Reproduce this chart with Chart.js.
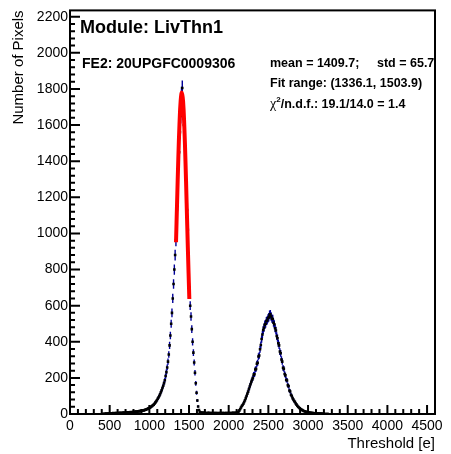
<!DOCTYPE html>
<html>
<head>
<meta charset="utf-8">
<script src="https://cdn.jsdelivr.net/npm/chart.js@4"></script>
<style>
  html, body { margin: 0; padding: 0; background: #fff; }
</style>
</head>
<body>
<canvas id="chart" width="451" height="454"></canvas>
<script>
// histogram: 10 e bins starting at 400 e
const binLow = 400;
const binWidth = 10;
const counts = [
  0, 1, 0, 1, 1, 2, 1, 2, 3, 2,              // 400
  3, 2, 4, 3, 5, 4, 3, 5, 6, 4,              // 500
  5, 6, 5, 7, 6, 5, 7, 8, 6, 7,              // 600
  8, 7, 9, 8, 10, 9, 11, 10, 9, 12,          // 700
  11, 13, 12, 14, 13, 15, 14, 16, 17, 16,    // 800
  18, 19, 21, 20, 23, 24, 26, 28, 30, 32,    // 900
  35, 37, 41, 44, 48, 52, 57, 63, 69, 76,    // 1000
  84, 91, 100, 109, 120, 131, 144, 157, 171, 187,        // 1100
  210, 232, 258, 290, 330, 380, 435, 500, 560, 640,      // 1200
  720, 800, 880, 960, 1040, 1160, 1370, 1450, 1560, 1650, // 1300
  1770, 1805, 1730, 1600, 1500, 1380, 1280, 1130, 1020, 860, // 1400
  700, 600, 540, 470, 400, 340, 285, 228, 170, 118,      // 1500
  75, 42, 22, 13, 9, 7, 6, 8, 5, 6,          // 1600
  5, 6, 4, 5, 7, 5, 4, 6, 5, 4,              // 1700
  5, 4, 6, 5, 3, 5, 4, 6, 4, 5,              // 1800
  4, 5, 6, 4, 5, 3, 5, 6, 4, 5,              // 1900
  6, 5, 4, 6, 5, 7, 5, 6, 7, 6,              // 2000
  8, 10, 14, 20, 28, 36, 44, 50, 57, 66,     // 2100
  76, 88, 100, 112, 124, 138, 152, 165, 178, 190,        // 2200
  200, 218, 220, 246, 250, 278, 284, 318, 324, 358,      // 2300
  382, 415, 440, 465, 478, 495, 500, 515, 518, 530,      // 2400
  536, 550, 552, 540, 528, 526, 505, 497, 475, 462,      // 2500
  432, 420, 392, 380, 346, 336, 302, 290, 256, 250,      // 2600
  222, 214, 190, 186, 160, 154, 130, 125, 107, 100,      // 2700
  88, 80, 72, 66, 58, 52, 46, 40, 36, 32,    // 2800
  28, 25, 22, 19, 17, 15, 14, 12, 11, 10,    // 2900
  9, 8, 7, 7, 6, 5, 5, 4, 4, 3,              // 3000
  3, 3, 2, 2, 2, 1, 2, 1, 1, 1,              // 3100
  0, 1, 0, 0, 1, 0, 0, 0, 0, 0               // 3200
];
// gaussian fit curve
const fitX = [1336.1, 1350, 1365, 1380, 1395, 1410, 1425, 1440, 1455, 1470, 1485, 1503.9];
const fitY = [951, 1178, 1413, 1607, 1736, 1780, 1732, 1600, 1403, 1168, 923, 637];

const xTicks = [0, 500, 1000, 1500, 2000, 2500, 3000, 3500, 4000, 4500];
const yTicks = [0, 200, 400, 600, 800, 1000, 1200, 1400, 1600, 1800, 2000, 2200];

const errColor = '#000099';
const thresholds = counts.map((_, i) => binLow + binWidth * (i + 0.5));

Chart.defaults.font.family = "'Liberation Sans', Arial, sans-serif";
Chart.defaults.color = '#000';

const rootStyle = {
  id: 'rootStyle',
  beforeDatasetsDraw(chart) {
    // error bars
    const {ctx, chartArea: a, scales: {x, y}} = chart;
    ctx.save();
    ctx.beginPath();
    ctx.rect(a.left, a.top, a.right - a.left, a.bottom - a.top);
    ctx.clip();
    ctx.strokeStyle = errColor;
    ctx.lineWidth = 1.4;
    ctx.beginPath();
    thresholds.forEach((t, i) => {
      const n = counts[i];
      if (!n) return;
      const e = Math.sqrt(n);
      const px = x.getPixelForValue(t);
      const py = y.getPixelForValue(n);
      ctx.moveTo(px, y.getPixelForValue(n - e));
      ctx.lineTo(px, y.getPixelForValue(n + e));
      ctx.moveTo(x.getPixelForValue(t - binWidth / 2), py);
      ctx.lineTo(x.getPixelForValue(t + binWidth / 2), py);
    });
    ctx.stroke();
    ctx.restore();
  },
  afterDraw(chart) {
    const {ctx, chartArea: a, scales: {x, y}} = chart;
    ctx.save();
    // frame
    ctx.strokeStyle = '#000';
    ctx.lineWidth = 2;
    ctx.strokeRect(a.left, a.top, a.right - a.left, a.bottom - a.top);
    // ticks inside the frame
    ctx.beginPath();
    for (let v = 0; v <= x.max; v += 100) {
      const px = x.getPixelForValue(v);
      const len = v % 500 === 0 ? 9 : 5;
      ctx.moveTo(px, a.bottom);
      ctx.lineTo(px, a.bottom - len);
    }
    for (let v = 0; v <= y.max; v += 40) {
      const py = y.getPixelForValue(v);
      const len = v % 200 === 0 ? 10 : 5;
      ctx.moveTo(a.left, py);
      ctx.lineTo(a.left + len, py);
    }
    ctx.stroke();

    // labels
    ctx.fillStyle = '#000';
    ctx.textBaseline = 'alphabetic';
    ctx.textAlign = 'left';
    ctx.font = "bold 18px 'Liberation Sans', Arial, sans-serif";
    ctx.fillText('Module: LivThn1', 80, 32.5);
    ctx.font = "bold 14px 'Liberation Sans', Arial, sans-serif";
    ctx.fillText('FE2: 20UPGFC0009306', 82, 68);
    ctx.font = "bold 12.5px 'Liberation Sans', Arial, sans-serif";
    ctx.fillText('mean = 1409.7;', 270, 67);
    ctx.fillText('std = 65.7', 377, 67);
    ctx.fillText('Fit range: (1336.1, 1503.9)', 270, 87);
    ctx.font = "14px 'Liberation Serif', serif";
    ctx.fillText('\u03c7', 270, 108);
    let cx = 270 + ctx.measureText('\u03c7').width;
    ctx.font = "bold 8px 'Liberation Sans', Arial, sans-serif";
    ctx.fillText('2', cx, 102);
    cx += ctx.measureText('2').width;
    ctx.font = "bold 12.5px 'Liberation Sans', Arial, sans-serif";
    ctx.fillText('/n.d.f.: 19.1/14.0 = 1.4', cx, 108);
    ctx.restore();
  }
};

new Chart(document.getElementById('chart'), {
  type: 'scatter',
  data: {
    datasets: [
      {
        label: 'histogram',
        data: thresholds.map((t, i) => ({x: t, y: counts[i]})).filter(p => p.y > 0),
        pointStyle: 'rect',
        pointRadius: 1.8,
        backgroundColor: '#000',
        borderWidth: 0,
        order: 2
      },
      {
        label: 'fit',
        data: fitX.map((v, i) => ({x: v, y: fitY[i]})),
        showLine: true,
        borderColor: '#ff0000',
        borderWidth: 4,
        pointRadius: 0,
        tension: 0.4,
        order: 1
      }
    ]
  },
  options: {
    responsive: false,
    animation: false,
    devicePixelRatio: 1,
    layout: { padding: { top: 7, right: 16, left: 0, bottom: 0 } },
    plugins: { legend: { display: false }, tooltip: { enabled: false } },
    scales: {
      x: {
        type: 'linear',
        min: 0,
        max: 4600,
        afterBuildTicks: s => { s.ticks = xTicks.map(v => ({value: v})); },
        afterFit: s => { s.height = 40; },
        grid: { display: false, drawTicks: false },
        border: { display: false },
        ticks: { font: { size: 14 }, padding: 4, maxRotation: 0, autoSkip: false, callback: v => String(v) },
        title: { display: true, text: 'Threshold [e]', align: 'end', font: { size: 15 }, padding: { top: 0, bottom: 1 } }
      },
      y: {
        type: 'linear',
        min: 0,
        max: 2235,
        afterBuildTicks: s => { s.ticks = yTicks.map(v => ({value: v})); },
        afterFit: s => { s.width = 70; },
        grid: { display: false, drawTicks: false },
        border: { display: false },
        ticks: { font: { size: 14 }, padding: 2, autoSkip: false, callback: v => String(v) },
        title: { display: true, text: 'Number of Pixels', align: 'end', font: { size: 15 }, padding: { top: 10, bottom: 0 } }
      }
    }
  },
  plugins: [rootStyle]
});
</script>
</body>
</html>
